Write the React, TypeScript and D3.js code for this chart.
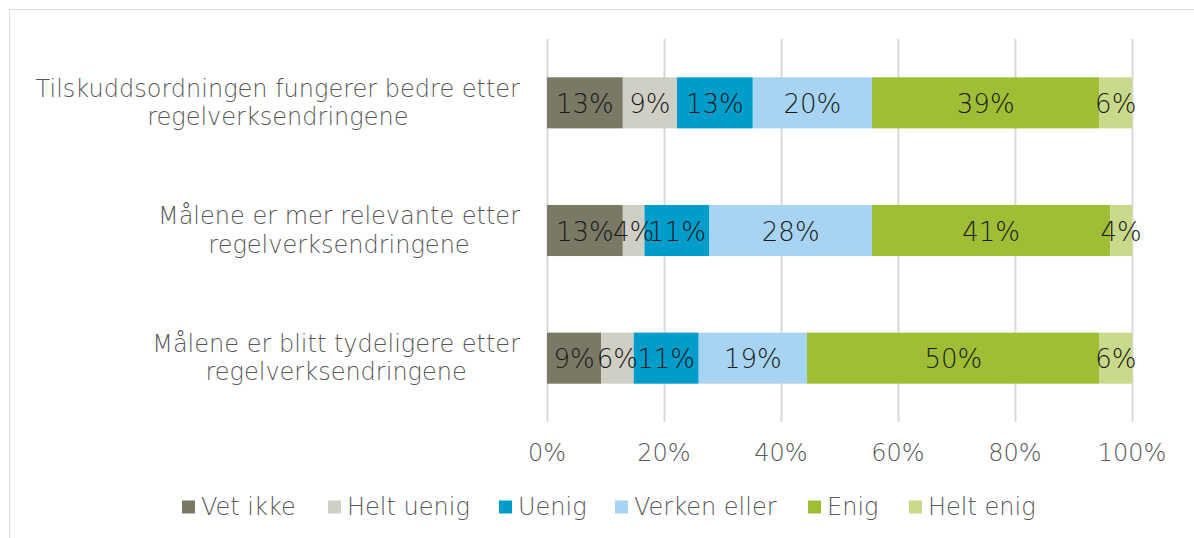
import React, { useEffect, useRef } from "react";
import * as d3 from "d3";

const W = 1194;
const H = 538;

const categories = [
  "Tilskuddsordningen fungerer bedre etter\nregelverksendringene",
  "Målene er mer relevante etter\nregelverksendringene",
  "Målene er blitt tydeligere etter\nregelverksendringene",
];

const seriesNames = ["Vet ikke", "Helt uenig", "Uenig", "Verken eller", "Enig", "Helt enig"];
const seriesColors = ["#7a7966", "#d0cfc5", "#009dcb", "#a8d4f4", "#a0be35", "#c8da8a"];

// percent per category
const vetIkke = [12.96, 12.96, 9.26];
const heltUenig = [9.26, 3.7, 5.56];
const uenig = [12.96, 11.11, 11.11];
const verkenEller = [20.37, 27.78, 18.52];
const enig = [38.89, 40.74, 50.0];
const heltEnig = [5.56, 3.7, 5.56];

const tickValues = [0, 20, 40, 60, 80, 100];

const FONT = "'DejaVu Sans', sans-serif";
const WEIGHT = 200;

export default function App() {
  const ref = useRef<SVGSVGElement>(null);

  useEffect(() => {
    const svg = d3.select(ref.current);
    svg.selectAll("*").remove();

    const allSeries = [vetIkke, heltUenig, uenig, verkenEller, enig, heltEnig];
    const rows = categories.map((c, i) => {
      const r: any = { cat: c };
      seriesNames.forEach((s, k) => (r[s] = allSeries[k][i]));
      return r;
    });
    const stacked = d3.stack().keys(seriesNames)(rows);

    const x = d3.scaleLinear().domain([0, 100]).range([547, 1132]);
    const y = d3.scaleBand().domain(categories).range([39, 422]).paddingInner(0.6).paddingOuter(0.3);

    // frame
    svg.append("rect")
      .attr("x", 9.5).attr("y", 9.5).attr("width", 1300).attr("height", 600)
      .attr("fill", "#fff").attr("stroke", "#d9d9d9").attr("stroke-width", 1);

    // gridlines
    svg.append("g").selectAll("line").data(tickValues).join("line")
      .attr("x1", (d) => Math.round(x(d)) + 0.5).attr("x2", (d) => Math.round(x(d)) + 0.5)
      .attr("y1", 39).attr("y2", 422)
      .attr("stroke", "#d9d9d9").attr("stroke-width", 2);

    // tick labels
    svg.append("g").selectAll("text").data(tickValues).join("text")
      .attr("x", (d) => x(d)).attr("y", 453)
      .attr("text-anchor", "middle").attr("dominant-baseline", "central")
      .attr("font-family", FONT).attr("font-weight", WEIGHT).attr("font-size", 24)
      .attr("fill", "#595959")
      .text((d) => d + "%");

    // bars
    const groups = svg.append("g").selectAll("g").data(stacked).join("g")
      .attr("fill", (d, i) => seriesColors[i]);
    groups.selectAll("rect").data((d) => d).join("rect")
      .attr("x", (d) => x(d[0])).attr("width", (d) => x(d[1]) - x(d[0]))
      .attr("y", (d: any) => y(d.data.cat)!).attr("height", y.bandwidth());

    // data labels
    const lg = svg.append("g");
    stacked.forEach((s) => {
      s.forEach((d: any) => {
        lg.append("text")
          .attr("x", (x(d[0]) + x(d[1])) / 2)
          .attr("y", y(d.data.cat)! + y.bandwidth() / 2 + 1)
          .attr("text-anchor", "middle").attr("dominant-baseline", "central")
          .attr("font-family", FONT).attr("font-weight", WEIGHT).attr("font-size", 26)
          .attr("fill", "#1a1a1a")
          .text(Math.round(d[1] - d[0]) + "%");
      });
    });

    // category labels: right-aligned block, lines centered inside it
    const rightEdge = 520;
    categories.forEach((c) => {
      const lines = c.split("\n");
      const cy = y(c)! + y.bandwidth() / 2;
      const g = svg.append("g");
      const texts = lines.map((ln, i) =>
        g.append("text")
          .attr("y", cy + (i - (lines.length - 1) / 2) * 28.5)
          .attr("text-anchor", "middle").attr("dominant-baseline", "central")
          .attr("font-family", FONT).attr("font-weight", WEIGHT).attr("font-size", 24)
          .attr("fill", "#595959")
          .text(ln)
      );
      const widths = texts.map((t) => (t.node() as SVGTextElement).getComputedTextLength());
      const bw = Math.max(...widths);
      texts.forEach((t) => t.attr("x", rightEdge - bw / 2));
    });

    // legend
    const legendX = [182, 328, 499, 615, 808, 909];
    const leg = svg.append("g").selectAll("g").data(seriesNames).join("g")
      .attr("transform", (d, i) => `translate(${legendX[i]},507)`);
    leg.append("rect").attr("x", 0).attr("y", -6.5).attr("width", 13).attr("height", 13)
      .attr("fill", (d, i) => seriesColors[i]);
    leg.append("text").attr("x", 19).attr("y", 0).attr("dominant-baseline", "central")
      .attr("font-family", FONT).attr("font-weight", WEIGHT).attr("font-size", 24)
      .attr("fill", "#595959").text((d) => d);
  }, []);

  return (
    <svg ref={ref} width={W} height={H} style={{ position: "absolute", left: 0, top: 0, background: "#fff" }} />
  );
}
